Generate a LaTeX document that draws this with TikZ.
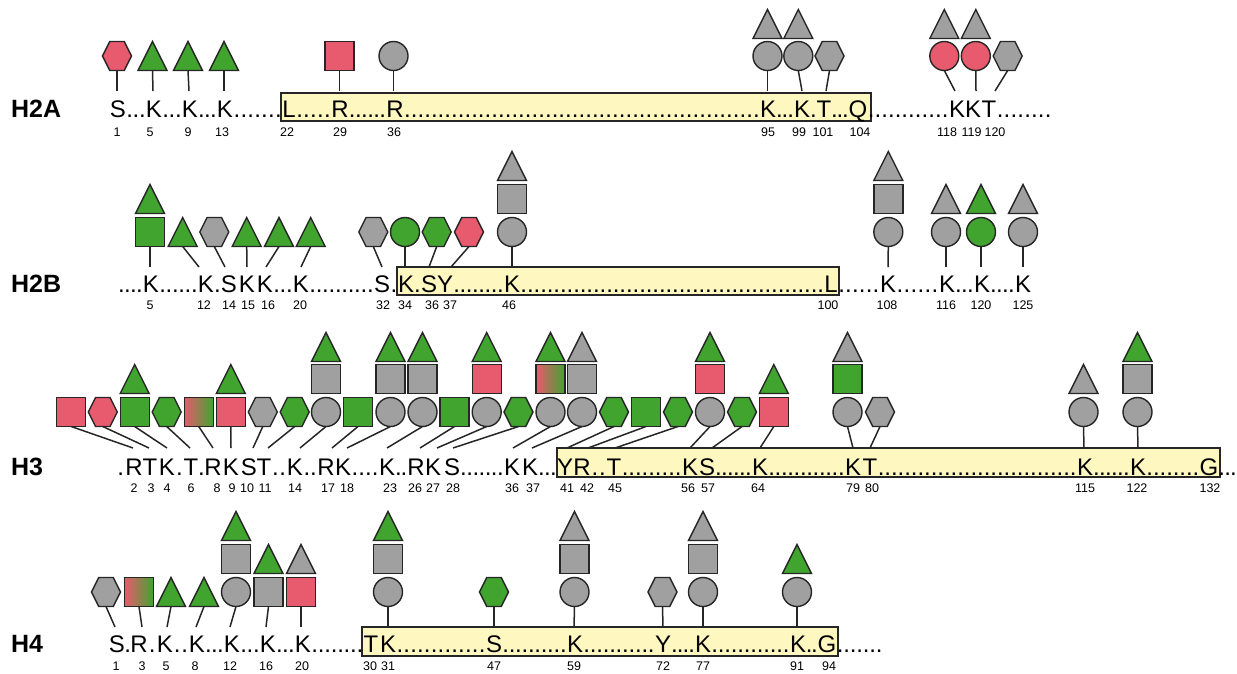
\documentclass[tikz,border=0pt]{standalone}
\usepackage{fontspec}
\setmainfont{Liberation Sans}
\usetikzlibrary{calc}
\definecolor{cgreen}{HTML}{40A42F}
\definecolor{cred}{HTML}{E85A6E}
\definecolor{cgrey}{HTML}{A0A0A1}
\definecolor{cyellow}{HTML}{FFF7C0}
\newcounter{drun}
% a run of evenly spaced periods filling the gap between two points on a baseline
\newcommand\dotrun[2]{\stepcounter{drun}%
  \path let \p1=#1, \p2=#2, \n1={max(1,round(scalar(\x2-\x1)/6.67))},
      \n3={scalar(\x2-\x1)-1}, \n2={\n3/\n1-0.01} in
    node[seq, anchor=base west, name=dr\arabic{drun}] at ($(\p1)+(0.5,0)$)
      {\hbox to \n3pt{\xleaders\hbox to \n2pt{\hss.\hss}\hfill}};}
\newcommand\dr[2]{\dotrun{(#1.base east)}{(#2.base west)}}
% residue letter, its position number, and the tip point for its connector
\newcommand\res[6]{\node[seq] (#1) at (#2,\baseY) {#3};
  \node[num] (#1n) at (#4,\numY) {#5};
  \coordinate (#1t) at (#6,\tipY);}
\newcommand\link[1]{\draw[conn] (#1s-s) -- (#1t);}
\tikzset{
  seq/.style={font=\fontsize{24}{24}\selectfont, inner sep=0pt, outer sep=0pt, anchor=base},
  num/.style={font=\fontsize{12.5}{13}\selectfont, inner sep=0pt, anchor=base},
  lbl/.style={font=\fontsize{25}{25}\selectfont\bfseries, inner sep=0pt, anchor=base west},
  sym/.style={draw=black!85, line width=1.4pt},
  conn/.style={draw=black!85, line width=1.5pt},
  box/.style={fill=cyellow, draw=black!85, line width=1.4pt},
  pics/circ/.style={code={\draw[sym, fill=#1] (0,0) circle[radius=14.5pt];
      \coordinate (-s) at (0,14.5);}},
  pics/sq/.style={code={\draw[sym, fill=#1] (-14.5,-14.5) rectangle (14.5,14.5);
      \coordinate (-s) at (0,14.5);}},
  pics/tri/.style={code={\draw[sym, fill=#1] (-14.5,14.5) -- (14.5,14.5) -- (0,-14.5) -- cycle;
      \coordinate (-s) at (0,14.5);}},
  pics/hex/.style={code={\draw[sym, fill=#1] (-14.5,0) -- (-7.25,-14.5) -- (7.25,-14.5)
      -- (14.5,0) -- (7.25,14.5) -- (-7.25,14.5) -- cycle;
      \coordinate (-s) at (0,14.5);}},
  pics/grad/.style={code={\shade[left color=cred, right color=cgreen]
      (-14.5,-14.5) rectangle (14.5,14.5);
      \draw[sym] (-14.5,-14.5) rectangle (14.5,14.5);
      \coordinate (-s) at (0,14.5);}},
}
\begin{document}
\begin{tikzpicture}[x=1pt,y=-1pt]
\useasboundingbox (0,0) rectangle (1237,673);

% globular domains
\path[box] (281,93) rectangle (871,121);
\path[box] (397,267) rectangle (839,295);
\path[box] (557,448) rectangle (1220,477);
\path[box] (362,627) rectangle (838,656);

% ---------------- H2A ----------------
\def\baseY{117}\def\numY{136}\def\tipY{91}
\node[lbl] (h2a) at (11,\baseY) {H2A};
\res{a1}{118}{S}{117}{1}{117}
\res{a5}{154}{K}{150}{5}{153}
\res{a9}{190}{K}{188}{9}{189}
\res{a13}{225}{K}{222}{13}{224}
\res{a22}{289}{L}{287}{22}{289}
\res{a29}{340}{R}{340}{29}{339.5}
\res{a36}{395}{R}{394}{36}{393.5}
\res{a95}{768}{K}{768}{95}{767.5}
\res{a99}{802}{K}{799}{99}{802}
\res{a101}{824}{T}{823}{101}{826}
\res{a104}{858}{Q}{860}{104}{858}
\res{a118}{957}{K}{947}{118}{955}
\res{a119}{973}{K}{971.5}{119}{976}
\res{a120}{989}{T}{995}{120}{995}
\dr{a1}{a5}\dr{a5}{a9}\dr{a9}{a13}\dr{a13}{a22}\dr{a22}{a29}\dr{a29}{a36}
\dr{a36}{a95}\dr{a95}{a99}\dr{a99}{a101}\dr{a101}{a104}\dr{a104}{a118}
\dotrun{(a120.base east)}{(1052,\baseY)}

\pic (a1s) at (117,56) {hex=cred};
\pic (a5s) at (152.5,56) {tri=cgreen};
\pic (a9s) at (188,56) {tri=cgreen};
\pic (a13s) at (224,56) {tri=cgreen};
\pic (a29s) at (339.5,56) {sq=cred};
\pic (a36s) at (393.5,56) {circ=cgrey};
\pic (a95s) at (767.5,56) {circ=cgrey};
\pic (a95u) at (767.5,24) {tri=cgrey};
\pic (a99s) at (798.3,56) {circ=cgrey};
\pic (a99u) at (798.3,24) {tri=cgrey};
\pic (a101s) at (829.5,56) {hex=cgrey};
\pic (a118s) at (944.3,56) {circ=cred};
\pic (a118u) at (944.3,24) {tri=cgrey};
\pic (a119s) at (975.8,56) {circ=cred};
\pic (a119u) at (975.8,24) {tri=cgrey};
\pic (a120s) at (1007.7,56) {hex=cgrey};
\foreach \r in {a1,a5,a9,a13,a29,a36,a95,a99,a101,a118,a119,a120} {\link{\r}}

% ---------------- H2B ----------------
\def\baseY{292}\def\numY{309}\def\tipY{267}
\node[lbl] (h2b) at (11,\baseY) {H2B};
\res{b5}{151}{K}{150}{5}{150}
\res{b12}{206}{K}{204}{12}{199}
\res{b14}{229}{S}{229}{14}{225}
\res{b15}{247}{K}{248}{15}{247}
\res{b16}{265}{K}{268}{16}{266}
\res{b20}{301}{K}{300}{20}{301}
\res{b32}{382}{S}{383}{32}{382}
\res{b34}{406}{K}{405}{34}{405}
\res{b36}{429}{S}{432}{36}{429}
\res{b37}{445}{Y}{450}{37}{451}
\res{b46}{512}{K}{509}{46}{512}
\res{b100}{831}{L}{828}{100}{831}
\res{b108}{888}{K}{887}{108}{888}
\res{b116}{947}{K}{946}{116}{946}
\res{b120}{982}{K}{981}{120}{981}
\res{b125}{1023}{K}{1023}{125}{1023}
\dotrun{(118,\baseY)}{(b5.base west)}
\dr{b5}{b12}\dr{b12}{b14}\dr{b16}{b20}\dr{b20}{b32}\dr{b32}{b34}\dr{b34}{b36}
\dr{b37}{b46}\dr{b46}{b100}\dr{b100}{b108}\dr{b108}{b116}\dr{b116}{b120}\dr{b120}{b125}

\pic (b5s) at (150,232) {sq=cgreen};
\pic (b5u) at (150,199) {tri=cgreen};
\pic (b12s) at (182.7,232) {tri=cgreen};
\pic (b14s) at (214.3,232) {hex=cgrey};
\pic (b15s) at (246.7,232) {tri=cgreen};
\pic (b16s) at (279,232) {tri=cgreen};
\pic (b20s) at (310.7,232) {tri=cgreen};
\pic (b32s) at (373.3,232) {hex=cgrey};
\pic (b34s) at (405,232) {circ=cgreen};
\pic (b36s) at (436.7,232) {hex=cgreen};
\pic (b37s) at (469,232) {hex=cred};
\pic (b46s) at (512,232) {circ=cgrey};
\pic (b46u) at (512,199) {sq=cgrey};
\pic (b46v) at (512,166) {tri=cgrey};
\pic (b108s) at (888.3,232) {circ=cgrey};
\pic (b108u) at (888.3,199) {sq=cgrey};
\pic (b108v) at (888.3,166) {tri=cgrey};
\pic (b116s) at (946,232) {circ=cgrey};
\pic (b116u) at (946,199) {tri=cgrey};
\pic (b120s) at (981,232) {circ=cgreen};
\pic (b120u) at (981,199) {tri=cgreen};
\pic (b125s) at (1023,232) {circ=cgrey};
\pic (b125u) at (1023,199) {tri=cgrey};
\foreach \r in {b5,b12,b14,b15,b16,b20,b32,b34,b36,b37,b46,b108,b116,b120,b125} {\link{\r}}

% ---------------- H3 ----------------
\def\baseY{475}\def\numY{492}\def\tipY{448}
\node[lbl] (h3) at (11,\baseY) {H3};
\res{c2}{134}{R}{134}{2}{133}
\res{c3}{150}{T}{151}{3}{149}
\res{c4}{167}{K}{167}{4}{167}
\res{c6}{191}{T}{191}{6}{190}
\res{c8}{213}{R}{217}{8}{213}
\res{c9}{231}{K}{232}{9}{231}
\res{c10}{249}{S}{247}{10}{253}
\res{c11}{264}{T}{265}{11}{268}
\res{c14}{295}{K}{295}{14}{300}
\res{c17}{326}{R}{328}{17}{332}
\res{c18}{343}{K}{347}{18}{347}
\res{c23}{387}{K}{390}{23}{387}
\res{c26}{416}{R}{415}{26}{420}
\res{c27}{433}{K}{433}{27}{437}
\res{c28}{452}{S}{453}{28}{453}
\res{c36}{512}{K}{512}{36}{513}
\res{c37}{530}{K}{533}{37}{532}
\res{c41}{565}{Y}{567}{41}{567}
\res{c42}{582}{R}{587}{42}{588}
\res{c45}{614}{T}{615}{45}{615}
\res{c56}{690}{K}{688}{56}{690}
\res{c57}{707}{S}{708}{57}{712}
\res{c64}{760}{K}{758}{64}{760}
\res{c79}{853}{K}{853}{79}{853}
\res{c80}{870}{T}{872}{80}{870}
\res{c115}{1085}{K}{1085}{115}{1084}
\res{c122}{1138}{K}{1137}{122}{1138}
\res{c132}{1209}{G}{1210}{132}{1209}
\dotrun{(116,\baseY)}{(c2.base west)}
\dr{c4}{c6}\dr{c6}{c8}\dr{c11}{c14}\dr{c14}{c17}\dr{c18}{c23}\dr{c23}{c26}
\dr{c28}{c36}\dr{c37}{c41}\dr{c42}{c45}\dr{c45}{c56}\dr{c57}{c64}\dr{c64}{c79}
\dr{c80}{c115}\dr{c115}{c122}\dr{c122}{c132}
\dotrun{(c132.base east)}{(1237,\baseY)}

\pic (c2s) at (71.2,412) {sq=cred};
\pic (c3s) at (102.8,412) {hex=cred};
\pic (c4s) at (134.7,412) {sq=cgreen};
\pic (c4u) at (134.7,379) {tri=cgreen};
\pic (c6s) at (166.7,412) {hex=cgreen};
\pic (c8s) at (198.7,412) {grad};
\pic (c9s) at (230.8,412) {sq=cred};
\pic (c9u) at (230.8,379) {tri=cgreen};
\pic (c10s) at (262.8,412) {hex=cgrey};
\pic (c11s) at (294.7,412) {hex=cgreen};
\pic (c14s) at (326,412) {circ=cgrey};
\pic (c14u) at (326,379) {sq=cgrey};
\pic (c14v) at (326,347) {tri=cgreen};
\pic (c17s) at (358,412) {sq=cgreen};
\pic (c18s) at (390.5,412) {circ=cgrey};
\pic (c18u) at (390.5,379) {sq=cgrey};
\pic (c18v) at (390.5,347) {tri=cgreen};
\pic (c23s) at (422.5,412) {circ=cgrey};
\pic (c23u) at (422.5,379) {sq=cgrey};
\pic (c23v) at (422.5,347) {tri=cgreen};
\pic (c26s) at (454.5,412) {sq=cgreen};
\pic (c27s) at (486.7,412) {circ=cgrey};
\pic (c27u) at (486.7,379) {sq=cred};
\pic (c27v) at (486.7,347) {tri=cgreen};
\pic (c28s) at (518.5,412) {hex=cgreen};
\pic (c36s) at (550.5,412) {circ=cgrey};
\pic (c36u) at (550.5,379) {grad};
\pic (c36v) at (550.5,347) {tri=cgreen};
\pic (c37s) at (582,412) {circ=cgrey};
\pic (c37u) at (582,379) {sq=cgrey};
\pic (c37v) at (582,347) {tri=cgrey};
\pic (c41s) at (614,412) {hex=cgreen};
\pic (c42s) at (646,412) {sq=cgreen};
\pic (c45s) at (678,412) {hex=cgreen};
\pic (c56s) at (710,412) {circ=cgrey};
\pic (c56u) at (710,379) {sq=cred};
\pic (c56v) at (710,347) {tri=cgreen};
\pic (c57s) at (742,412) {hex=cgreen};
\pic (c64s) at (773.8,412) {sq=cred};
\pic (c64u) at (773.8,379) {tri=cgreen};
\pic (c79s) at (847.5,412) {circ=cgrey};
\pic (c79u) at (847.5,379) {sq=cgreen};
\pic (c79v) at (847.5,347) {tri=cgrey};
\pic (c80s) at (880,412) {hex=cgrey};
\pic (c115s) at (1083.5,412) {circ=cgrey};
\pic (c115u) at (1083.5,379) {tri=cgrey};
\pic (c122s) at (1137.5,412) {circ=cgrey};
\pic (c122u) at (1137.5,379) {sq=cgrey};
\pic (c122v) at (1137.5,347) {tri=cgreen};
\foreach \r in {c2,c3,c4,c6,c8,c9,c10,c11,c14,c17,c18,c23,c26,c27,c28,c36,c37,
  c41,c42,c45,c56,c57,c64,c79,c80,c115,c122} {\link{\r}}

% ---------------- H4 ----------------
\def\baseY{652}\def\numY{670}\def\tipY{627}
\node[lbl] (h4) at (11,\baseY) {H4};
\res{d1}{117}{S}{116}{1}{115}
\res{d3}{139}{R}{142}{3}{142}
\res{d5}{165}{K}{166}{5}{167}
\res{d8}{197}{K}{195}{8}{196}
\res{d12}{232}{K}{230}{12}{230}
\res{d16}{268}{K}{266}{16}{266}
\res{d20}{303}{K}{302}{20}{301}
\res{d30}{371}{T}{370}{30}{371}
\res{d31}{388}{K}{388}{31}{388}
\res{d47}{494}{S}{494}{47}{494}
\res{d59}{575}{K}{574}{59}{574}
\res{d72}{663}{Y}{663}{72}{663}
\res{d77}{703}{K}{703}{77}{703}
\res{d91}{798}{K}{797}{91}{797}
\res{d94}{827}{G}{829}{94}{827}
\dr{d1}{d3}\dr{d3}{d5}\dr{d5}{d8}\dr{d8}{d12}\dr{d12}{d16}\dr{d16}{d20}\dr{d20}{d30}
\dr{d31}{d47}\dr{d47}{d59}\dr{d59}{d72}\dr{d72}{d77}\dr{d77}{d91}\dr{d91}{d94}
\dotrun{(d94.base east)}{(883,\baseY)}

\pic (d1s) at (106,592) {hex=cgrey};
\pic (d3s) at (139,592) {grad};
\pic (d5s) at (171,592) {tri=cgreen};
\pic (d8s) at (204,592) {tri=cgreen};
\pic (d12s) at (236,592) {circ=cgrey};
\pic (d12u) at (236,559) {sq=cgrey};
\pic (d12v) at (236,526) {tri=cgreen};
\pic (d16s) at (268.5,592) {sq=cgrey};
\pic (d16u) at (268.5,559) {tri=cgreen};
\pic (d20s) at (301,592) {sq=cred};
\pic (d20u) at (301,559) {tri=cgrey};
\pic (d31s) at (388,592) {circ=cgrey};
\pic (d31u) at (388,559) {sq=cgrey};
\pic (d31v) at (388,526) {tri=cgreen};
\pic (d47s) at (494,592) {hex=cgreen};
\pic (d59s) at (574.5,592) {circ=cgrey};
\pic (d59u) at (574.5,559) {sq=cgrey};
\pic (d59v) at (574.5,526) {tri=cgrey};
\pic (d72s) at (662.5,592) {hex=cgrey};
\pic (d77s) at (703,592) {circ=cgrey};
\pic (d77u) at (703,559) {sq=cgrey};
\pic (d77v) at (703,526) {tri=cgrey};
\pic (d91s) at (797,592) {circ=cgrey};
\pic (d91u) at (797,559) {tri=cgreen};
\foreach \r in {d1,d3,d5,d8,d12,d16,d20,d31,d47,d59,d72,d77,d91} {\link{\r}}
\end{tikzpicture}
\end{document}
